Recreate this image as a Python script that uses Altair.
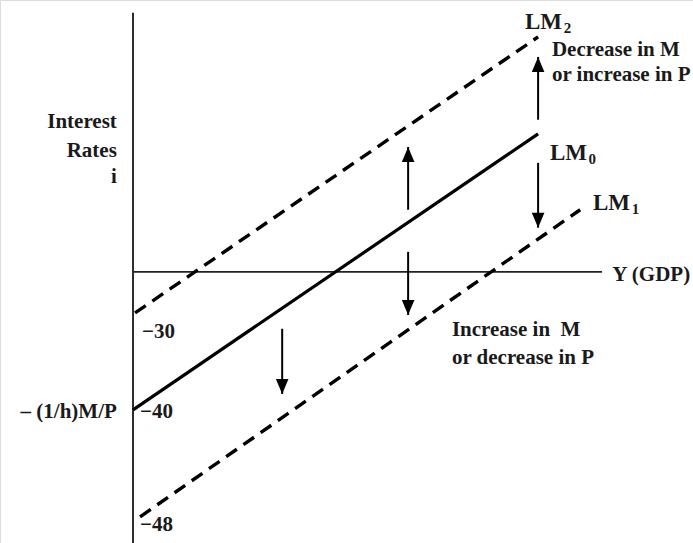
import altair as alt
import pandas as pd

# ---- LM curves (endpoints in Y, i units) ----
lm_names = ["LM0", "LM2", "LM1"]
lm_y_start = [0.0, 0.6, 2.1]
lm_i_start = [-40.0, -11.9, -71.0]
lm_y_end = [120.3, 120.3, 132.8]
lm_i_end = [40.0, 68.1, 18.0]
lm_dashed = [False, True, True]

# ---- shift arrows ----
arrow_y = [120.3, 120.3, 81.7, 81.7, 44.3]
arrow_from = [44.1, 31.6, 18.0, 5.8, -16.5]
arrow_tip = [62.3, 12.8, 36.2, -12.5, -35.4]
arrow_dir = ["up", "down", "up", "down", "down"]

# ---- labels ----
left_labels = ["Decrease in M", "or increase in P", "Y (GDP)",
               "Increase in\u00a0 M", "or decrease in P", "\u221240", "\u221230", "\u221248"]
left_label_y = [124.4, 124.4, 142.3, 94.7, 94.7, 2.1, 2.7, 2.1]
left_label_i = [64.3, 57.1, -0.8, -16.8, -24.9, -40.6, -17.3, -73.3]

curve_labels = ["LM", "LM", "LM"]
curve_label_y = [116.4, 123.8, 136.6]
curve_label_i = [72.5, 34.5, 20.0]

right_labels = ["Interest", "Rates", "i", "\u2013 (1/h)M/P"]
right_label_y = [-4.8, -4.8, -4.8, -4.8]
right_label_i = [43.5, 35.1, 27.5, -40.6]

sub_labels = ["2", "0", "1"]
sub_label_y = [127.9, 135.3, 148.1]
sub_label_i = [70.6, 32.6, 18.1]

X_DOMAIN = [-39.5, 166.3]
I_DOMAIN = [-78.6, 78.8]
FONT = "Liberation Serif"

xs = alt.Scale(domain=X_DOMAIN, nice=False, zero=False)
ys = alt.Scale(domain=I_DOMAIN, nice=False, zero=False)

lm_df = pd.DataFrame({
    "name": lm_names, "y0": lm_y_start, "i0": lm_i_start,
    "y1": lm_y_end, "i1": lm_i_end, "dashed": lm_dashed,
})
arrow_df = pd.DataFrame({"Y": arrow_y, "i0": arrow_from, "i1": arrow_tip, "dir": arrow_dir})
left_df = pd.DataFrame({"t": left_labels, "Y": left_label_y, "i": left_label_i})
curve_df = pd.DataFrame({"t": curve_labels, "Y": curve_label_y, "i": curve_label_i})
right_df = pd.DataFrame({"t": right_labels, "Y": right_label_y, "i": right_label_i})
sub_df = pd.DataFrame({"t": sub_labels, "Y": sub_label_y, "i": sub_label_i})
axes_df = pd.DataFrame({"y0": [0.0, 0.0], "i0": [75.1, 0.0], "y1": [0.0, 139.3], "i1": [-78.6, 0.0]})


def base_x(f):
    return alt.X(f, type="quantitative", scale=xs, axis=None)


def base_y(f):
    return alt.Y(f, type="quantitative", scale=ys, axis=None)


axes = alt.Chart(axes_df).mark_rule(color="#222", strokeWidth=1.9).encode(
    x=base_x("y0"), y=base_y("i0"), x2="y1", y2="i1"
)

solid = alt.Chart(lm_df[~lm_df["dashed"]]).mark_rule(
    color="#000", strokeWidth=3.2, strokeCap="butt"
).encode(x=base_x("y0"), y=base_y("i0"), x2="y1", y2="i1")

dashed = alt.Chart(lm_df[lm_df["dashed"]]).mark_rule(
    color="#000", strokeWidth=3.4, strokeDash=[13, 8], strokeCap="butt"
).encode(x=base_x("y0"), y=base_y("i0"), x2="y1", y2="i1")

shafts = alt.Chart(arrow_df).mark_rule(color="#000", strokeWidth=2).encode(
    x=base_x("Y"), y=base_y("i0"), y2="i1"
)

# arrowheads: custom symbol paths with the tip at the data point
UP = "M0,0 L-0.42,1 L0.42,1 Z"
DOWN = "M0,0 L-0.42,-1 L0.42,-1 Z"
heads = alt.Chart(arrow_df).mark_point(filled=True, opacity=1, color="#000", size=900, strokeWidth=0).encode(
    x=base_x("Y"), y=base_y("i1"),
    shape=alt.Shape("dir:N", scale=alt.Scale(domain=["up", "down"], range=[UP, DOWN]), legend=None),
)

txt_left = alt.Chart(left_df).mark_text(
    align="left", baseline="middle", font=FONT, fontWeight="bold", fontSize=21, color="#1a1a1a"
).encode(x=base_x("Y"), y=base_y("i"), text="t")

txt_curve = alt.Chart(curve_df).mark_text(
    align="left", baseline="middle", font=FONT, fontWeight="bold", fontSize=23, color="#1a1a1a"
).encode(x=base_x("Y"), y=base_y("i"), text="t")

txt_right = alt.Chart(right_df).mark_text(
    align="right", baseline="middle", font=FONT, fontWeight="bold", fontSize=21, color="#1a1a1a"
).encode(x=base_x("Y"), y=base_y("i"), text="t")

txt_sub = alt.Chart(sub_df).mark_text(
    align="left", baseline="middle", font=FONT, fontWeight="bold", fontSize=15, color="#1a1a1a"
).encode(x=base_x("Y"), y=base_y("i"), text="t")

chart = alt.layer(axes, solid, dashed, shafts, heads, txt_left, txt_curve, txt_right, txt_sub).properties(
    width=693, height=543, padding=0, autosize=alt.AutoSizeParams(type="none")
).configure_view(stroke=None).configure(background="white")

chart.save("out.html", embed_options={"renderer": "svg", "actions": False})
